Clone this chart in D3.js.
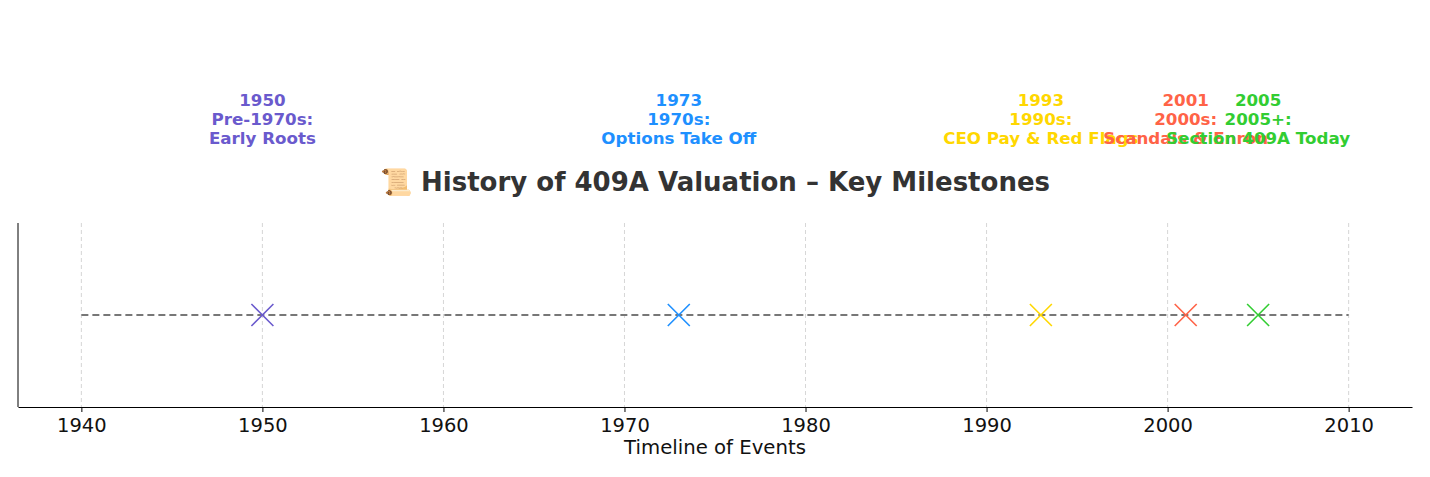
<!DOCTYPE html><html><head><meta charset="utf-8"><script src="https://cdn.jsdelivr.net/npm/d3@7"></script>
<style>body{margin:0;background:#fff}text{font-family:"DejaVu Sans",sans-serif}</style></head><body><svg id="c" width="1430" height="477"></svg>
<script>
const years=[1950,1973,1993,2001,2005];
const eras=["Pre-1970s:","1970s:","1990s:","2000s:","2005+:"];
const events=["Early Roots","Options Take Off","CEO Pay & Red Flags","Scandals & Enron","Section 409A Today"];
const colors=["#6a5acd","#1e90ff","#ffd700","#ff6347","#32cd32"];
const ticks=[1940,1950,1960,1970,1980,1990,2000,2010];
const svg=d3.select("#c");
const x=d3.scaleLinear().domain([1936.5,2013.5]).range([18,1412]);
const y=d3.scaleLinear().domain([-1,1]).range([407,223]);
svg.append("g").selectAll("line").data(ticks).join("line").attr("x1",d=>x(d)).attr("x2",d=>x(d)).attr("y1",223).attr("y2",407).attr("stroke","#ccc").attr("stroke-width",0.8).attr("stroke-dasharray","4,3");
svg.append("line").attr("x1",x(1940)).attr("x2",x(2010)).attr("y1",y(0)).attr("y2",y(0)).attr("stroke","#777").attr("stroke-width",2).attr("stroke-dasharray","7,4");
const ax=svg.append("g").attr("transform","translate(0,407)").call(d3.axisBottom(x).tickValues(ticks).tickFormat(d3.format("d")).tickSize(5).tickSizeOuter(0));
ax.select(".domain").attr("stroke","#000");
ax.selectAll("text").attr("font-size",19.5).attr("fill","#111").attr("dy","0.85em");
svg.append("line").attr("x1",18).attr("x2",18).attr("y1",223).attr("y2",407).attr("stroke","#000");
const s=11;
years.forEach((yr,i)=>{
 const cx=x(yr),cy=y(0);
 svg.append("path").attr("d",`M${cx-s},${cy-s}L${cx+s},${cy+s}M${cx-s},${cy+s}L${cx+s},${cy-s}`).attr("stroke",colors[i]).attr("stroke-width",1.6).attr("fill","none");
 [String(yr),eras[i],events[i]].forEach((t,j)=>svg.append("text").attr("x",cx).attr("y",106+j*19).attr("text-anchor","middle").attr("font-size",16.7).attr("font-weight","bold").attr("fill",colors[i]).text(t));
});
svg.append("text").attr("x",715).attr("y",191).attr("text-anchor","middle").attr("font-size",26).attr("font-weight","bold").attr("fill","#333").text("📜 History of 409A Valuation – Key Milestones");
svg.append("text").attr("x",715).attr("y",454).attr("text-anchor","middle").attr("font-size",19.7).attr("fill","#111").text("Timeline of Events");
</script></body></html>
